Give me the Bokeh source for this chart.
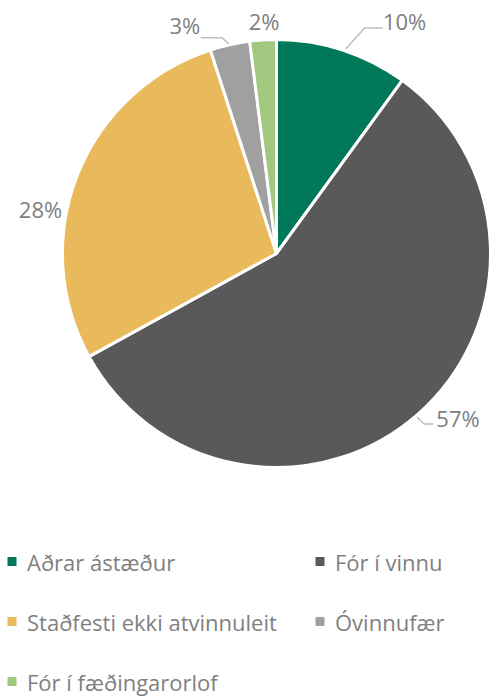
import math
from bokeh.plotting import figure
from bokeh.models import Range1d, ColumnDataSource
from bokeh.core.properties import value
from bokeh.embed import file_html
from bokeh.resources import INLINE

# ---- data ----
categories = ["Aðrar ástæður", "Fór í vinnu", "Staðfesti ekki atvinnuleit", "Óvinnufær", "Fór í fæðingarorlof"]
shares = [10, 57, 28, 3, 2]
pct_labels = ["10%", "57%", "28%", "3%", "2%"]
colors = ["#00785A", "#595959", "#E9BA5B", "#A0A0A0", "#A2C77F"]

# ---- layout (picture pixels) ----
W, H = 491, 697
CX, CY, R = 276, 253, 214
label_off = [(62, -29), (40, 4), (-37, 34), (-45, -20), (1, -19)]
leader = [True, True, False, True, False]
FONT = "Open Sans"
FS = "22px"
TXT = "#7F7F7F"

p = figure(width=W, height=H, output_backend="svg", toolbar_location=None,
           x_range=Range1d(0, W), y_range=Range1d(-H, 0),
           min_border=0, outline_line_color=None)
p.axis.visible = False
p.grid.visible = False
p.background_fill_color = "white"
p.border_fill_color = "white"

total = sum(shares)
starts, ends, mids = [], [], []
a = math.pi / 2
for s in shares:
    span = 2 * math.pi * s / total
    starts.append(a)
    ends.append(a - span)
    mids.append(a - span / 2)
    a -= span

src = ColumnDataSource(dict(start=starts, end=ends, color=colors))
p.wedge(x=CX, y=-CY, radius=R, start_angle="end", end_angle="start",
        direction="anticlock", fill_color="color", line_color="white", line_width=3, source=src)

# data labels
lx, ly, ex, ey = [], [], [], []
for m, (dx, dy) in zip(mids, label_off):
    px = CX + R * math.cos(m)
    py = CY - R * math.sin(m)
    ex.append(px); ey.append(py)
    lx.append(px + dx); ly.append(py + dy)

p.text(x=lx, y=[-v for v in ly], text=pct_labels, text_font=value(FONT), text_font_size=FS,
       text_color=TXT, text_align="center", text_baseline="middle")

# leader lines
for i in range(len(shares)):
    if not leader[i]:
        continue
    sx, sy = ex[i], ey[i]
    tx, ty = lx[i], ly[i]
    if i == 1:
        xs = [sx - 1, sx + 6, tx - 25]
        ys = [sy + 3, ty + 6, ty + 6]
    elif i == 0:
        xs = [sx + 3, sx + 22, tx - 22]
        ys = [sy - 1, ty + 7, ty + 7]
    else:
        xs = [sx - 1, sx - 8, tx + 16]
        ys = [sy - 1, ty + 13, ty + 13]
    p.line(xs, [-v for v in ys], line_color="#BFBFBF", line_width=1.5)

# legend (manual)
col_x = [11.5, 319.5]
row_y0, row_dy = 561, 60
mx = [col_x[i % 2] for i in range(len(categories))]
my = [-(row_y0 + row_dy * (i // 2)) for i in range(len(categories))]
p.scatter(x=mx, y=my, marker="square", size=9, fill_color=colors, line_color=None)
p.text(x=[v + 15 for v in mx], y=my, text=categories, text_font=value(FONT), text_font_size=FS,
       text_color=TXT, text_align="left", text_baseline="middle")

open("out.html", "w").write(file_html(p, INLINE))
